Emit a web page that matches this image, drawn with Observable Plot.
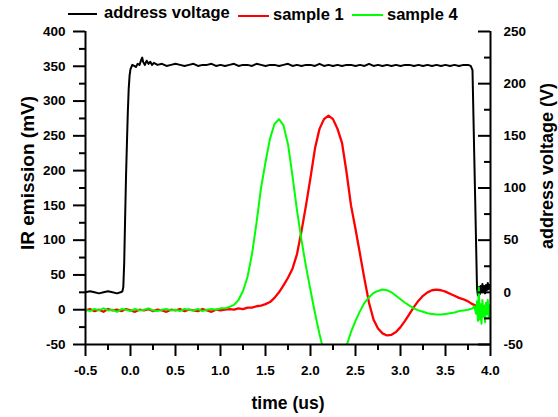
<!DOCTYPE html>
<html>
<head>
<meta charset="utf-8">
<script src="https://cdn.jsdelivr.net/npm/d3@7"></script>
<script src="https://cdn.jsdelivr.net/npm/@observablehq/plot@0.6"></script>
<style>
  html, body { margin: 0; padding: 0; background: #fff; }
  body { width: 558px; height: 417px; overflow: hidden; font-family: "Liberation Sans", Arial, sans-serif; }
  #legend { position: relative; height: 24px; width: 558px; font-weight: bold; font-size: 16.5px; line-height: 1; }
  #legend .sw { position: absolute; height: 0; border-top: 2.5px solid; }
  #legend .lb { position: absolute; white-space: nowrap; color: #000; }
</style>
</head>
<body>
<div id="legend"></div>
<div id="chart"></div>
<script>
// ---- data (time in µs) ----
const seriesNames = ["address voltage", "sample 1", "sample 4"];
const seriesColors = ["#000000", "#ff0000", "#00ff00"];

// address voltage, in volts (right axis)
const addressVoltage = [
  [-0.5,0],[-0.45,1],[-0.4,0],[-0.35,-1],[-0.3,0],[-0.25,1],[-0.2,0],[-0.15,-1],[-0.11,0],
  [-0.09,1],[-0.08,5],[-0.07,28],[-0.06,70],[-0.05,110],[-0.04,142],[-0.03,172],[-0.02,195],[-0.01,208],
  [0,214],[0.02,218],[0.04,217],[0.06,216],[0.08,219],[0.1,218],[0.12,223],[0.13,225],[0.14,221],
  [0.16,218],[0.18,222],[0.2,219],[0.22,221],[0.24,218],[0.26,220],
  [0.3,218],[0.35,219],[0.4,217],[0.45,218],[0.5,219],[0.55,218],[0.6,217],[0.65,218],[0.7,219],[0.75,217],
  [0.8,218],[0.85,218],[0.9,219],[0.95,217],[1.0,218],[1.05,217],[1.1,218],[1.15,219],[1.2,217],[1.25,218],
  [1.3,218],[1.35,217],[1.4,219],[1.45,218],[1.5,217],[1.55,218],[1.6,218],[1.65,217],[1.7,218],[1.75,219],
  [1.8,217],[1.85,218],[1.9,217],[1.95,218],[2.0,218],[2.05,217],[2.1,219],[2.15,217],[2.2,218],[2.25,217],
  [2.3,218],[2.35,217],[2.4,218],[2.45,218],[2.5,217],[2.55,218],[2.6,217],[2.65,219],[2.7,217],[2.75,218],
  [2.8,217],[2.85,218],[2.9,217],[2.95,218],[3.0,217],[3.05,218],[3.1,218],[3.15,217],[3.2,218],[3.25,217],
  [3.3,218],[3.35,217],[3.4,218],[3.45,217],[3.5,218],[3.55,217],[3.6,218],[3.65,217],[3.7,218],[3.75,218],
  [3.78,217],[3.8,213],[3.81,171],[3.82,129],[3.83,88],[3.84,46],[3.85,4],[3.86,-3],[3.87,5],[3.88,-2],
  [3.89,6],[3.9,0],[3.91,8],[3.92,1],[3.93,6],[3.94,-1],[3.95,7],[3.96,2],[3.97,9],[3.98,3],[3.99,7],[4.0,4]
];

// sample 1, IR emission in mV (left axis)
const sample1 = [
  [-0.5,-1],[-0.45,1],[-0.4,-2],[-0.35,0],[-0.3,-3],[-0.25,1],[-0.2,-1],[-0.15,0],[-0.1,-2],[-0.05,1],
  [0,-1],[0.05,-3],[0.1,0],[0.15,-1],[0.2,1],[0.25,-2],[0.3,0],[0.35,-1],[0.4,-3],[0.45,0],
  [0.5,-1],[0.55,1],[0.6,-2],[0.65,0],[0.7,-1],[0.75,-2],[0.8,1],[0.85,-1],[0.9,-3],[0.95,0],
  [1.0,-1],[1.05,0],[1.1,1],[1.15,0],[1.2,2],[1.25,1],[1.3,3],[1.35,3],[1.4,5],[1.45,6],
  [1.5,8],[1.55,11],[1.6,17],[1.65,25],[1.7,35],[1.75,46],[1.8,59],[1.85,80],[1.9,113],[1.95,150],
  [2.0,190],[2.05,232],[2.1,260],[2.15,274],[2.2,279],[2.25,274],[2.3,260],[2.35,240],[2.4,198],[2.45,150],
  [2.5,116],[2.55,80],[2.6,44],[2.65,10],[2.7,-14],[2.75,-27],[2.8,-34],[2.85,-37],[2.9,-36],[2.95,-32],
  [3.0,-25],[3.05,-16],[3.1,-6],[3.15,4],[3.2,13],[3.25,20],[3.3,25],[3.35,28],[3.4,29],[3.45,28],
  [3.5,26],[3.55,23],[3.6,20],[3.65,17],[3.7,15],[3.75,12],[3.8,8],[3.85,5],[3.9,2],[3.95,0],[4.0,-1]
];

// sample 4, IR emission in mV (left axis)
const sample4 = [
  [-0.5,0],[-0.45,-2],[-0.4,1],[-0.35,-1],[-0.3,2],[-0.25,-1],[-0.2,0],[-0.15,-3],[-0.1,1],[-0.05,0],
  [0,-2],[0.05,1],[0.1,-1],[0.15,0],[0.2,2],[0.25,-1],[0.3,-2],[0.35,0],[0.4,1],[0.45,-1],
  [0.5,0],[0.55,-2],[0.6,1],[0.65,0],[0.7,-1],[0.75,1],[0.8,-2],[0.85,0],[0.9,1],[0.95,0],
  [1.0,2],[1.05,2],[1.1,4],[1.15,7],[1.2,14],[1.25,27],[1.3,47],[1.35,80],[1.4,125],[1.45,175],
  [1.5,212],[1.55,246],[1.6,267],[1.65,274],[1.7,265],[1.75,238],[1.8,192],[1.85,143],[1.9,100],[1.95,62],
  [2.0,28],[2.05,-5],[2.1,-35],[2.15,-62],[2.2,-85],[2.25,-96],[2.3,-92],[2.35,-74],[2.4,-52],[2.45,-32],
  [2.5,-16],[2.55,-2],[2.6,10],[2.65,18],[2.7,24],[2.75,27],[2.8,29],[2.85,28],[2.9,25],[2.95,20],
  [3.0,15],[3.05,10],[3.1,6],[3.15,2],[3.2,-1],[3.25,-3],[3.3,-5],[3.35,-6],[3.4,-7],[3.45,-7],
  [3.5,-6],[3.55,-5],[3.6,-4],[3.65,-2],[3.7,-1],[3.75,0],[3.8,2],[3.82,5],[3.84,-6],[3.85,12],
  [3.86,-16],[3.87,32],[3.88,-14],[3.89,8],[3.9,-20],[3.91,14],[3.92,-10],[3.93,6],[3.94,-18],[3.95,10],
  [3.96,-6],[3.97,14],[3.98,-12],[3.99,6],[4.0,2]
];

// ---- tick values ----
const xTicks = [-0.5, 0, 0.5, 1, 1.5, 2, 2.5, 3, 3.5, 4];
const xMinorTicks = [-0.25, 0.25, 0.75, 1.25, 1.75, 2.25, 2.75, 3.25, 3.75];
const leftTicks = [-50, 0, 50, 100, 150, 200, 250, 300, 350, 400];
const leftMinorTicks = [-25, 25, 75, 125, 175, 225, 275, 325, 375];
const rightTicks = [-50, 0, 50, 100, 150, 200, 250];
const rightMinorTicks = [-25, 25, 75, 125, 175, 225];

const xLabel = "time (us)";
const yLabel = "IR emission (mV)";
const y2Label = "address voltage (V)";

// right axis (V: -50..250) shares the frame with left axis (mV: -50..400)
const vToMv = v => (v + 50) * 1.5 - 50;
const mvToV = m => (m + 50) / 1.5 - 50;

// ---- legend ----
const legend = document.getElementById("legend");
const legendItems = [
  {sw: [68, 12.8, 29], lb: [104, 4.3]},
  {sw: [238, 14.5, 31], lb: [273, 6.3]},
  {sw: [352, 14.0, 31], lb: [387, 6.3]}
];
seriesNames.forEach((name, i) => {
  const it = legendItems[i];
  const sw = document.createElement("div");
  sw.className = "sw";
  sw.style.left = it.sw[0] + "px";
  sw.style.top = it.sw[1] + "px";
  sw.style.width = it.sw[2] + "px";
  sw.style.borderColor = seriesColors[i];
  legend.appendChild(sw);
  const lb = document.createElement("div");
  lb.className = "lb";
  lb.style.left = it.lb[0] + "px";
  lb.style.top = it.lb[1] + "px";
  lb.textContent = name;
  legend.appendChild(lb);
});

// ---- chart ----
const W = 558, H = 393;
const mL = 85, mR = 68, mT = 7, mB = 73;
const plotW = W - mL - mR;
const fontFamily = '"Liberation Sans", Arial, sans-serif';

const chart = Plot.plot({
  width: W,
  height: H,
  marginLeft: mL,
  marginRight: mR,
  marginTop: mT,
  marginBottom: mB,
  x: {domain: [-0.5, 4], axis: null},
  y: {domain: [-50, 400], axis: null},
  style: {fontFamily, fontSize: "13.5px", fontWeight: "bold", color: "#000", background: "#fff", overflow: "visible"},
  marks: [
    // data
    Plot.line(addressVoltage, {x: d => d[0], y: d => vToMv(d[1]), stroke: seriesColors[0], strokeWidth: 2, clip: true}),
    Plot.line(sample1, {x: d => d[0], y: d => d[1], stroke: seriesColors[1], strokeWidth: 2.3, clip: true}),
    Plot.line(sample4, {x: d => d[0], y: d => d[1], stroke: seriesColors[2], strokeWidth: 2, clip: true}),
    // axis lines
    Plot.ruleX([-0.5], {stroke: "#000", strokeWidth: 2}),
    Plot.ruleX([4], {stroke: "#000", strokeWidth: 2}),
    Plot.ruleY([-50], {stroke: "#000", strokeWidth: 2}),
    // bottom axis
    Plot.axisX(xTicks, {anchor: "bottom", tickSize: 12, tickPadding: 9, strokeWidth: 2, tickFormat: d => d.toFixed(1), label: null}),
    Plot.axisX(xMinorTicks, {anchor: "bottom", tickSize: 6, strokeWidth: 2, tickFormat: () => "", label: null}),
    // left axis
    Plot.axisY(leftTicks, {anchor: "left", tickSize: 12, tickPadding: 8, strokeWidth: 2, tickFormat: d => String(d), label: null}),
    Plot.axisY(leftMinorTicks, {anchor: "left", tickSize: 6, strokeWidth: 2, tickFormat: () => "", label: null}),
    // right axis (inward ticks)
    Plot.tickY(rightTicks.map(vToMv), {stroke: "#000", strokeWidth: 2, insetLeft: plotW - 12}),
    Plot.tickY(rightMinorTicks.map(vToMv), {stroke: "#000", strokeWidth: 2, insetLeft: plotW - 6}),
    Plot.axisY(rightTicks.map(vToMv), {anchor: "right", tickSize: 0, tickPadding: 13, tickFormat: d => String(Math.round(mvToV(d))), label: null}),
    // axis titles
    Plot.text([xLabel], {frameAnchor: "bottom", dy: 59, fontSize: 17.5, fontWeight: "bold", textAnchor: "middle", lineAnchor: "middle"}),
    Plot.text([yLabel], {frameAnchor: "left", dx: -58, dy: -15, rotate: -90, fontSize: 19, fontWeight: "bold", textAnchor: "middle", lineAnchor: "middle"}),
    Plot.text([y2Label], {frameAnchor: "right", dx: 57, dy: -22, rotate: -90, fontSize: 18, fontWeight: "bold", textAnchor: "middle", lineAnchor: "middle"})
  ]
});
document.getElementById("chart").appendChild(chart);
</script>
</body>
</html>
